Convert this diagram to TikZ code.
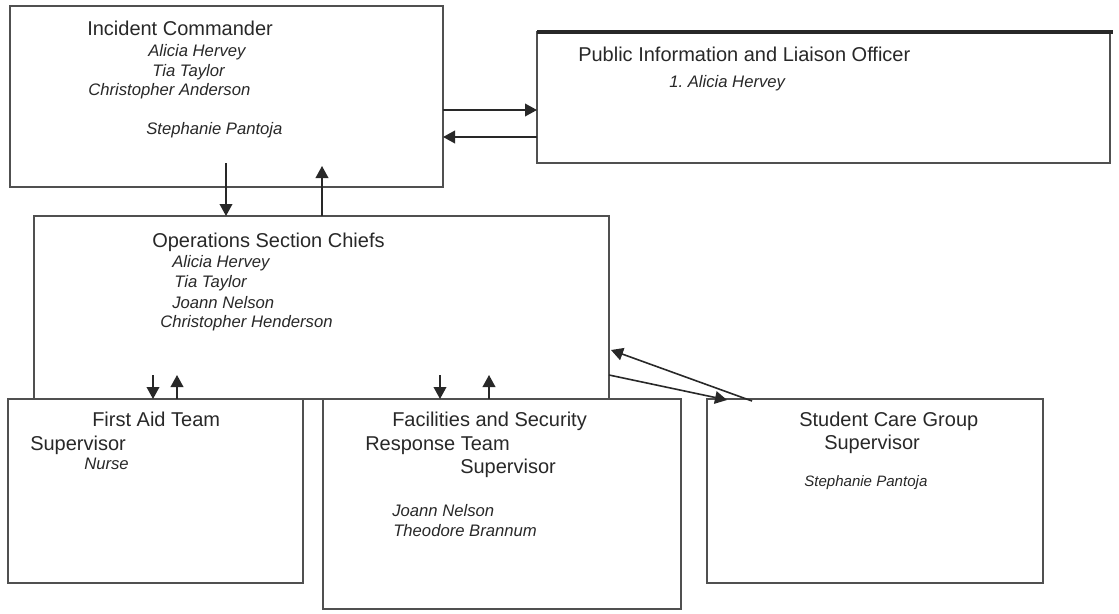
\documentclass[tikz,border=0pt]{standalone}
\usepackage{fontspec}
\setmainfont{Liberation Sans}
\usetikzlibrary{positioning,calc,arrows.meta}
\definecolor{boxgray}{RGB}{80,80,80}
\definecolor{inkgray}{RGB}{40,40,40}

\begin{document}
\begin{tikzpicture}[
    x=0.75pt, y=-0.75pt,
    box/.style={rectangle, draw=boxgray, fill=white, line width=1.5pt,
                anchor=north west, inner sep=0pt, outer sep=0pt},
    boxtitle/.style={anchor=base west, inner sep=0pt, text=inkgray,
                font=\fontsize{15}{18}\selectfont},
    boxname/.style={anchor=base west, inner sep=0pt, text=inkgray,
                font=\fontsize{12.5}{15}\selectfont\itshape},
    arr/.style={-{Triangle[length=9pt,width=9.5pt]}, line width=1.2pt, draw=inkgray}
]
\useasboundingbox (0,0) rectangle (1119,613);

% boxes
\node[box, minimum width=324.75pt, minimum height=135.75pt] (ic) at (10,6) {};
\node[box, minimum width=429.75pt, minimum height=98.25pt] (pio) at (537,32) {};
\node[box, minimum width=431.25pt, minimum height=137.25pt] (ops) at (34,216) {};
\node[box, minimum width=221.25pt, minimum height=138pt] (fa) at (8,399) {};
\node[box, minimum width=268.5pt, minimum height=157.5pt] (fs) at (323,399) {};
\node[box, minimum width=252pt, minimum height=138pt] (sc) at (707,399) {};
\draw[line width=2.4pt, draw=inkgray] (pio.north west) -- ($(pio.north east)+(3,0)$);

% Incident Commander
\node[boxtitle] (ic-t) at (87,36) {Incident Commander};
\node[boxname] (ic-n1) at (148,57) {Alicia Hervey};
\node[boxname] (ic-n2) at (152,77) {Tia Taylor};
\node[boxname] (ic-n3) at (88,96) {Christopher Anderson};
\node[boxname] (ic-n4) at (146,134) {Stephanie Pantoja};

% Public Information
\node[boxtitle] (pio-t) at (578,62) {Public Information and Liaison Officer};
\node[boxname] (pio-n1) at (669,88) {1.\ Alicia Hervey};

% Operations
\node[boxtitle] (ops-t) at (152,247) {Operations Section Chiefs};
\node[boxname] (ops-n1) at (172,267) {Alicia Hervey};
\node[boxname] (ops-n2) at (174,287) {Tia Taylor};
\node[boxname] (ops-n3) at (172,308) {Joann Nelson};
\node[boxname] (ops-n4) at (160,327) {Christopher Henderson};

% First Aid
\node[boxtitle] (fa-t1) at (92,426) {First Aid Team};
\node[boxtitle] (fa-t2) at (30,450) {Supervisor};
\node[boxname] (fa-n1) at (84,469) {Nurse};

% Facilities and Security
\node[boxtitle] (fs-t1) at (392,426) {Facilities and Security};
\node[boxtitle] (fs-t2) at (365,450) {Response Team};
\node[boxtitle] (fs-t3) at (460,473) {Supervisor};
\node[boxname] (fs-n1) at (392,516) {Joann Nelson};
\node[boxname] (fs-n2) at (393,536) {Theodore Brannum};

% Student Care
\node[boxtitle] (sc-t1) at (799,426) {Student Care Group};
\node[boxtitle] (sc-t2) at (824,449) {Supervisor};
\node[boxname, font=\fontsize{11.3}{14}\selectfont\itshape] (sc-n1) at (804,486) {Stephanie Pantoja};

% connectors
\draw[arr] ($(ic.east)+(0,13.5)$) -- ($(pio.west)+(0,12.5)$);
\draw[arr] ($(pio.west)+(0,39.5)$) -- ($(ic.east)+(0,40.5)$);
\draw[arr] ($(ic.south west)+(216,-24)$) -- ($(ops.north west)+(192,0)$);
\draw[arr] ($(ops.north west)+(288,0)$) -- ($(ic.south west)+(312,-21)$);
\draw[arr] ($(ops.south west)+(119,-24)$) -- ($(fa.north west)+(145,0)$);
\draw[arr] ($(fa.north west)+(169,0)$) -- ($(ops.south west)+(143,-24)$);
\draw[arr] ($(ops.south west)+(406,-24)$) -- ($(fs.north west)+(117,0)$);
\draw[arr] ($(fs.north west)+(166,0)$) -- ($(ops.south west)+(455,-24)$);
\draw[arr] ($(ops.south east)+(0,-24)$) -- ($(sc.north west)+(20,1)$);
\draw[arr] ($(sc.north west)+(45,2)$) -- ($(ops.south east)+(2,-49)$);

\end{tikzpicture}
\end{document}
